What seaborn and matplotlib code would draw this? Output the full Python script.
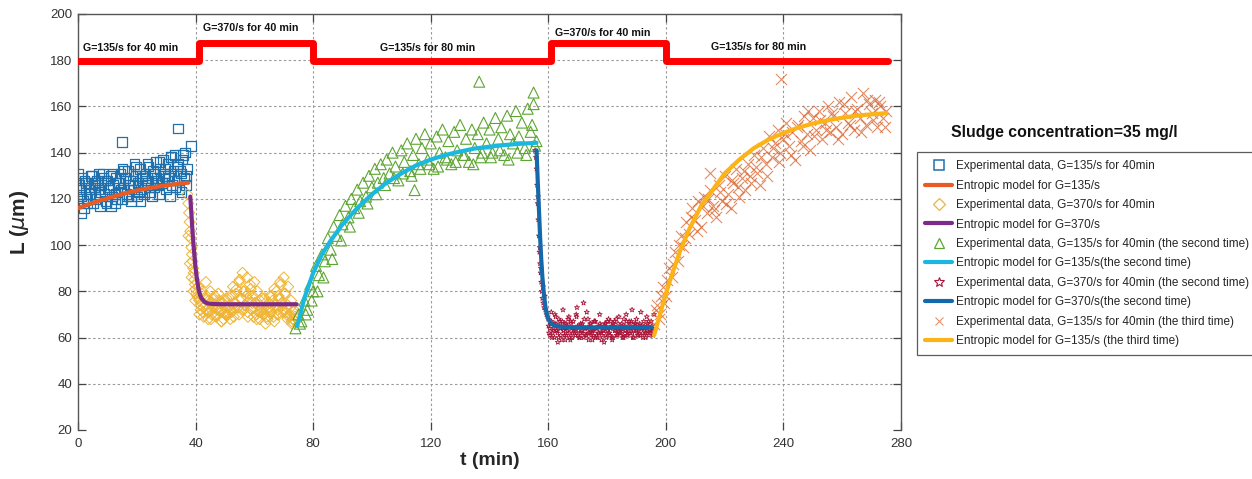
import numpy as np
import pandas as pd
import matplotlib
matplotlib.use("Agg")
import matplotlib.pyplot as plt
from matplotlib.lines import Line2D
import seaborn as sns

# ---------------- measured floc size L (um) versus time t (min) ----------------
# G=135/s, first 40 min (squares)
S1_T = [0, 0.5, 1, 1.5, 2, 2.5, 3, 3.5, 4, 4.5,
        5, 5.5, 6, 6.5, 7, 7.5, 8, 8.5, 9, 9.5,
        10, 10.5, 11, 11.5, 12, 12.5, 13, 13.5, 14, 14.5,
        15, 15.5, 16, 16.5, 17, 17.5, 18, 18.5, 19, 19.5,
        20, 20.5, 21, 21.5, 22, 22.5, 23, 23.5, 24, 24.5,
        25, 25.5, 26, 26.5, 27, 27.5, 28, 28.5, 29, 29.5,
        30, 30.5, 31, 31.5, 32, 32.5, 33, 33.5, 34, 34.5,
        35, 35.5, 36, 36.5, 37,
        0.2, 1.2, 2.2, 3.2, 4.2, 5.8, 7.2, 9.2, 11.2, 13.2,
        15.2, 17.2, 19.2, 21.2, 23.2, 25.2, 27.2, 29.2, 31.2, 33.2,
        35.2, 36.8, 15.0, 34.0, 38.5]
S1_L = [118, 126, 121, 129, 116, 124, 120, 127, 122, 130,
        118, 125, 121, 128, 124, 117, 126, 131, 122, 119,
        128, 124, 130, 121, 126, 118, 129, 123, 127, 131,
        120, 125, 129, 122, 132, 126, 119, 128, 124, 130,
        121, 127, 133, 124, 129, 122, 131, 126, 134, 123,
        129, 132, 125, 136, 128, 122, 133, 127, 137, 130,
        124, 135, 129, 138, 126, 132, 139, 128, 135, 124,
        131, 137, 129, 140, 133,
        131, 114, 128, 118, 125, 127, 131, 128, 117, 120,
        133, 121, 135, 119, 128, 121, 126, 131, 121, 125,
        123, 126, 144.6, 150.5, 143]
S1B_T = [0.7, 1.7, 2.7, 3.7, 4.7, 5.7, 6.7, 7.7, 8.7, 9.7,
         10.7, 11.7, 12.7, 13.7, 14.7, 15.7, 16.7, 17.7, 18.7, 19.7,
         20.7, 21.7, 22.7, 23.7, 24.7, 25.7, 26.7, 27.7, 28.7, 29.7,
         30.7, 31.7, 32.7, 33.7, 34.7, 35.7, 36.7]
S1B_L = [124, 119, 127, 122, 130, 120, 126, 123, 129, 118,
         125, 131, 122, 127, 124, 132, 121, 128, 126, 134,
         123, 130, 127, 135, 125, 131, 129, 136, 127, 133,
         130, 138, 128, 134, 132, 139, 130]

# G=370/s, 40 min (diamonds)
S2_T = [37.2, 37.5, 37.8, 38.0, 38.2, 38.4, 38.6, 38.8, 39.0, 39.2,
        39.4, 39.6, 39.8, 40.0, 40.3, 40.6, 41.0,
        37.6, 38.1, 38.7, 39.3, 39.9,
        41, 41.5, 42, 42.5, 43, 43.5, 44, 44.5, 45, 45.5,
        46, 46.5, 47, 47.5, 48, 48.5, 49, 49.5, 50, 50.5,
        51, 51.5, 52, 52.5, 53, 53.5, 54, 54.5, 55, 55.5,
        56, 56.5, 57, 57.5, 58, 58.5, 59, 59.5, 60, 60.5,
        61, 61.5, 62, 62.5, 63, 63.5, 64, 64.5, 65, 65.5,
        66, 66.5, 67, 67.5, 68, 68.5, 69, 69.5, 70, 70.5,
        71, 71.5, 72, 72.5, 73, 73.5, 74,
        41.3, 42.8, 44.3, 45.8, 47.3, 48.8, 50.3, 51.8, 53.3, 54.8,
        56.3, 57.8, 59.3, 60.8, 62.3, 63.8, 65.3, 66.8, 68.3, 69.8,
        71.3, 72.8]
S2_L = [122, 118, 114, 110, 106, 103, 99, 96, 93, 90,
        88, 85, 83, 81, 79, 78, 77,
        104, 92, 86, 80, 76,
        82, 74, 79, 71, 77, 84, 72, 76, 80, 70,
        74, 78, 69, 73, 76, 71, 75, 68, 73, 77,
        70, 74, 72, 78, 69, 75, 81, 73, 85, 77,
        88, 80, 74, 86, 79, 83, 72, 78, 84, 75,
        80, 71, 76, 73, 70, 77, 72, 68, 75, 71,
        78, 69, 74, 80, 72, 77, 83, 74, 86, 79,
        73, 82, 70, 76, 68, 72, 67,
        70, 73, 68, 75, 72, 67, 70, 68, 73, 70,
        72, 69, 75, 68, 71, 66, 73, 67, 70, 71,
        68, 66]
S2B_T = [41.25, 41.75, 42.25, 42.75, 43.25, 43.75, 44.25, 44.75, 45.25, 45.75,
         46.25, 46.75, 47.25, 47.75, 48.25, 48.75, 49.25, 49.75, 50.25, 50.75,
         51.25, 51.75, 52.25, 52.75, 53.25, 53.75, 54.25, 54.75, 55.25, 55.75,
         56.25, 56.75, 57.25, 57.75, 58.25, 58.75, 59.25, 59.75, 60.25, 60.75,
         61.25, 61.75, 62.25, 62.75, 63.25, 63.75, 64.25, 64.75, 65.25, 65.75,
         66.25, 66.75, 67.25, 67.75, 68.25, 68.75, 69.25, 69.75, 70.25, 70.75,
         71.25, 71.75, 72.25, 72.75, 73.25, 73.75]
S2B_L = [76, 72, 80, 69, 74, 78, 71, 75, 68, 73,
         77, 70, 74, 79, 72, 67, 75, 71, 76, 70,
         73, 78, 71, 82, 75, 79, 73, 84, 77, 72,
         80, 74, 78, 71, 76, 81, 73, 69, 75, 70,
         74, 68, 72, 77, 70, 75, 69, 73, 78, 71,
         76, 81, 74, 70, 78, 84, 75, 72, 79, 71,
         74, 69, 73, 67, 71, 69]

# G=135/s, second time (triangles)
S3_T = [74, 75, 76, 77, 78, 79, 80, 81, 82, 83,
        84, 85, 86, 87, 88, 89, 90, 91, 92, 93,
        94, 95, 96, 97, 98, 99, 100, 101, 102, 103,
        104, 105, 106, 107, 108, 109, 110, 111, 112, 113,
        114, 115, 116, 117, 118, 119, 120, 121, 122, 123,
        124, 125, 126, 127, 128, 129, 130, 131, 132, 133,
        134, 135, 136, 137, 138, 139, 140, 141, 142, 143,
        144, 145, 146, 147, 148, 149, 150, 151, 152, 153,
        154, 155, 156,
        75.5, 77.5, 79.5, 81.5, 83.5, 86.5, 89.5, 92.5, 95.5, 98.5,
        101.5, 104.5, 107.5, 110.5, 113.5, 116.5, 119.5, 122.5, 125.5, 128.5,
        131.5, 134.5, 137.5, 140.5, 143.5, 146.5, 149.5, 152.5, 155.5,
        136.5, 114.5, 155.0, 154.5]
S3_L = [64, 70, 67, 76, 72, 83, 80, 91, 87, 96,
        93, 103, 98, 108, 104, 113, 109, 117, 112, 120,
        116, 124, 119, 127, 121, 130, 125, 133, 127, 135,
        129, 137, 131, 140, 134, 128, 141, 136, 144, 132,
        139, 146, 135, 142, 148, 137, 144, 133, 147, 140,
        150, 138, 145, 135, 149, 141, 152, 139, 146, 136,
        150, 142, 148, 138, 153, 144, 150, 140, 155, 146,
        151, 139, 156, 148, 144, 158, 147, 153, 142, 159,
        149, 161, 145,
        66, 70, 76, 80, 86, 94, 102, 108, 114, 118,
        122, 126, 129, 131, 130, 133, 135, 134, 137, 136,
        139, 135, 140, 138, 141, 137, 140, 139, 143,
        170.7, 123.8, 166, 152]

# G=370/s, second time (stars)
S4_T = [155.5, 155.8, 156, 156.2, 156.4, 156.6, 156.8, 157, 157.2, 157.4,
        157.6, 157.8, 158, 158.3, 158.6, 159, 159.4, 159.8,
        156.5, 157.1, 157.5, 158.2, 158.8,
        160, 160.5, 161, 161.5, 162, 162.5, 163, 163.5, 164, 164.5,
        165, 165.5, 166, 166.5, 167, 167.5, 168, 168.5, 169, 169.5,
        170, 170.5, 171, 171.5, 172, 172.5, 173, 173.5, 174, 174.5,
        175, 175.5, 176, 176.5, 177, 177.5, 178, 178.5, 179, 179.5,
        180, 180.5, 181, 181.5, 182, 182.5, 183, 183.5, 184, 184.5,
        185, 185.5, 186, 186.5, 187, 187.5, 188, 188.5, 189, 189.5,
        190, 190.5, 191, 191.5, 192, 192.5, 193, 193.5, 194, 194.5,
        195, 195.5, 196,
        160.25, 160.75, 161.25, 161.75, 162.25, 162.75, 163.25, 163.75, 164.25, 164.75,
        165.25, 165.75, 166.25, 166.75, 167.25, 167.75, 168.25, 168.75, 169.25, 169.75,
        170.25, 170.75, 171.25, 171.75, 172.25, 172.75, 173.25, 173.75, 174.25, 174.75,
        175.25, 175.75, 176.25, 176.75, 177.25, 177.75, 178.25, 178.75, 179.25, 179.75,
        180.25, 180.75, 181.25, 181.75, 182.25, 182.75, 183.25, 183.75, 184.25, 184.75,
        185.25, 185.75, 186.25, 186.75, 187.25, 187.75, 188.25, 188.75, 189.25, 189.75,
        190.25, 190.75, 191.25, 191.75, 192.25, 192.75, 193.25, 193.75, 194.25, 194.75,
        195.25, 195.75]
S4_L = [141, 138, 133, 126, 118, 111, 104, 97, 92, 88,
        84, 80, 77, 75, 73, 72, 70, 69,
        121, 99, 90, 82, 78,
        68, 64, 71, 62, 66, 69, 63, 60, 67, 65,
        72, 61, 66, 63, 69, 59, 64, 67, 62, 70,
        65, 60, 66, 63, 75, 64, 61, 68, 62, 66,
        59, 63, 67, 61, 65, 70, 62, 64, 58, 66,
        63, 68, 61, 65, 60, 67, 64, 62, 69, 63,
        66, 61, 65, 70, 62, 67, 64, 72, 63, 66,
        68, 61, 65, 71, 64, 67, 62, 69, 65, 63,
        67, 64, 70,
        62, 66, 60, 64, 70, 63, 58, 65, 61, 67,
        63, 59, 64, 68, 60, 66, 62, 64, 61, 73,
        63, 60, 65, 62, 68, 61, 64, 59, 66, 63,
        61, 67, 64, 60, 62, 65, 61, 63, 66, 60,
        64, 62, 67, 59, 65, 63, 61, 66, 62, 64,
        60, 68, 63, 61, 65, 62, 67, 60, 64, 66,
        62, 63, 61, 65, 60, 64, 62, 66, 61, 63,
        65, 62]
S4B_T = [160.1, 160.6, 161.1, 161.6, 162.1, 162.6, 163.1, 163.6, 164.1, 164.6,
         165.1, 165.6, 166.1, 166.6, 167.1, 167.6, 168.1, 168.6, 169.1, 169.6,
         170.1, 170.6, 171.1, 171.6, 172.1, 172.6, 173.1, 173.6, 174.1, 174.6,
         175.1, 175.6, 176.1, 176.6, 177.1, 177.6, 178.1, 178.6, 179.1, 179.6,
         180.1, 180.6, 181.1, 181.6, 182.1, 182.6, 183.1, 183.6, 184.1, 184.6,
         185.1, 185.6, 186.1, 186.6, 187.1, 187.6, 188.1, 188.6, 189.1, 189.6,
         190.1, 190.6, 191.1, 191.6, 192.1, 192.6, 193.1, 193.6, 194.1, 194.6,
         195.1, 195.6]
S4B_L = [65, 61, 67, 63, 60, 66, 62, 68, 64, 59,
         63, 66, 61, 65, 62, 67, 60, 64, 63, 69,
         61, 65, 62, 66, 60, 64, 71, 62, 65, 61,
         63, 67, 60, 64, 62, 66, 59, 63, 65, 61,
         67, 62, 64, 60, 66, 63, 68, 61, 64, 62,
         65, 60, 63, 67, 61, 64, 66, 62, 60, 65,
         63, 61, 66, 64, 62, 65, 60, 63, 67, 62,
         64, 61]

# G=135/s, third time (crosses)
S5_T = [196, 197, 198, 199, 200, 201, 202, 203, 204, 205,
        206, 207, 208, 209, 210, 211, 212, 213, 214, 215,
        216, 217, 218, 219, 220, 221, 222, 223, 224, 225,
        226, 227, 228, 229, 230, 231, 232, 233, 234, 235,
        236, 237, 238, 239, 240, 241, 242, 243, 244, 245,
        246, 247, 248, 249, 250, 251, 252, 253, 254, 255,
        256, 257, 258, 259, 260, 261, 262, 263, 264, 265,
        266, 267, 268, 269, 270, 271, 272, 273, 274, 275,
        196.5, 197.5, 198.5, 199.5, 200.5,
        202.5, 204.5, 206.5, 208.5, 210.5, 212.5, 214.5, 216.5, 218.5, 220.5,
        222.5, 224.5, 226.5, 228.5, 230.5, 232.5, 234.5, 236.5, 238.5, 240.5,
        242.5, 244.5, 246.5, 248.5, 250.5, 252.5, 254.5, 256.5, 258.5, 260.5,
        262.5, 264.5, 266.5, 268.5, 270.5, 272.5, 274.5,
        239.3, 215.0]
S5_L = [66, 74, 70, 82, 78, 90, 86, 97, 93, 104,
        99, 110, 105, 116, 111, 119, 108, 121, 114, 124,
        117, 112, 126, 119, 130, 122, 116, 127, 133, 121,
        129, 124, 135, 127, 139, 131, 126, 142, 135, 147,
        138, 144, 150, 140, 146, 153, 143, 149, 137, 152,
        145, 156, 148, 141, 155, 150, 158, 146, 153, 160,
        149, 156, 151, 162, 148, 157, 153, 164, 150, 159,
        155, 166, 152, 161, 157, 163, 151, 160, 155, 158,
        72, 68, 78, 75, 85,
        92, 100, 103, 112, 106, 117, 120, 115, 123, 118,
        128, 125, 132, 130, 134, 138, 130, 142, 136, 148,
        139, 151, 143, 158, 147, 154, 150, 157, 146, 161,
        152, 158, 149, 163, 154, 162, 151,
        172, 131]

# ---------------- entropic model curves ----------------
M1_T = [0, 4, 8, 12, 16, 20, 24, 28, 32, 36, 37.5]
M1_L = [116, 117.8, 119.5, 121, 122.4, 123.6, 124.6, 125.5, 126.2, 126.8, 127]
M2_T = [38.2, 38.6, 39.0, 39.5, 40.0, 40.5, 41, 41.5, 42, 43, 44, 46, 50, 60, 74.4]
M2_L = [121, 113, 105, 97, 90, 85, 81, 78.5, 77, 75.5, 74.8, 74.5, 74.4, 74.4, 74.4]
M3_T = [74.6, 77, 80, 83, 86, 90, 95, 100, 105, 110, 115, 120, 125, 130, 135, 140, 145, 150, 156]
M3_L = [65, 77, 88, 96, 102, 109, 116, 122, 127, 131, 134.5, 137, 139, 140.5, 141.8, 142.6,
        143.3, 143.8, 144.3]
M4_T = [156, 156.4, 156.8, 157.2, 157.6, 158, 158.5, 159, 159.5, 160, 161, 162, 164, 167, 172,
        180, 195]
M4_L = [141, 128, 116, 104, 94, 86, 79, 73.5, 70, 68, 66, 65.2, 64.7, 64.5, 64.4, 64.4, 64.4]
M5_T = [196, 198, 200, 202, 205, 208, 212, 216, 220, 225, 230, 235, 240, 245, 250, 255, 260,
        265, 270, 275]
M5_L = [61, 70, 79, 87, 98, 107, 117, 124, 131, 137, 142, 145.7, 148.5, 150.8, 152.6, 154,
        155.1, 156, 156.6, 157.1]

# ---------------- shear-rate schedule ----------------
STEP_T = [0, 41, 80, 161, 200, 275.5]
STEP_L = [179.5, 187.5, 179.5, 187.5, 179.5, 179.5]
PHASE_TEXT = ["G=135/s for 40 min", "G=370/s for 40 min", "G=135/s for 80 min",
              "G=370/s for 40 min", "G=135/s for 80 min"]
PHASE_T = [1.7, 42.4, 102.7, 162.2, 215.5]
PHASE_L = [185.3, 193.8, 185.2, 191.6, 185.9]

LEGEND_LABELS = [
    "Experimental data, G=135/s for 40min",
    "Entropic model for G=135/s",
    "Experimental data, G=370/s for 40min",
    "Entropic model for G=370/s",
    "Experimental data, G=135/s for 40min (the second time)",
    "Entropic model for G=135/s(the second time)",
    "Experimental data, G=370/s for 40min (the second time)",
    "Entropic model for G=370/s(the second time)",
    "Experimental data, G=135/s for 40min (the third time)",
    "Entropic model for G=135/s (the third time)",
]

C_SQ, C_DI, C_TR, C_ST, C_X = "#1f70ac", "#f0b434", "#5da532", "#a8163a", "#d9642e"
C_M1, C_M2, C_M3, C_M4, C_M5 = "#ea5a24", "#7d2b8b", "#1ab8e0", "#1569ab", "#fcb316"

sns.set_style("ticks")
plt.rcParams["font.family"] = ["Liberation Sans", "DejaVu Sans"]
plt.rcParams["mathtext.fontset"] = "dejavusans"

W, H = 1252, 479
fig = plt.figure(figsize=(W / 100, H / 100), dpi=100)
ax = fig.add_axes([78 / W, 1 - 430 / H, 823 / W, 416 / H])

ax.set_xlim(0, 280)
ax.set_ylim(20, 200)

# dashed grid
for yv in range(40, 200, 20):
    ax.axhline(yv, color="#9a9a9a", lw=0.8, ls=(0, (2.2, 2.2)), zorder=0)
for xv in range(40, 280, 40):
    ax.axvline(xv, color="#9a9a9a", lw=0.8, ls=(0, (2.2, 2.2)), zorder=0)

# experimental data
sns.scatterplot(x=S1_T + S1B_T, y=S1_L + S1B_L, ax=ax, marker="s", s=48, facecolors="none",
                edgecolor=C_SQ, linewidth=0.9, zorder=2)
sns.scatterplot(x=S2_T + S2B_T, y=S2_L + S2B_L, ax=ax, marker="D", s=32, facecolors="none",
                edgecolor=C_DI, linewidth=0.7, zorder=2)
sns.scatterplot(x=S3_T, y=S3_L, ax=ax, marker="^", s=62, facecolors="none",
                edgecolor=C_TR, linewidth=0.8, zorder=2)
sns.scatterplot(x=S4_T + S4B_T, y=S4_L + S4B_L, ax=ax, marker="*", s=14, facecolors="none",
                edgecolor=C_ST, linewidth=0.6, zorder=2)
sns.scatterplot(x=S5_T, y=S5_L, ax=ax, marker="x", s=64, color=C_X,
                linewidth=0.8, alpha=0.75, zorder=2)

# model curves
for mt, ml, c in [(M1_T, M1_L, C_M1), (M2_T, M2_L, C_M2), (M3_T, M3_L, C_M3),
                  (M4_T, M4_L, C_M4), (M5_T, M5_L, C_M5)]:
    sns.lineplot(x=mt, y=ml, ax=ax, color=c, lw=3, sort=False, estimator=None, zorder=3)

# shear-rate schedule
sns.lineplot(x=STEP_T, y=STEP_L, ax=ax, color="#ff0000", lw=5, sort=False,
             estimator=None, drawstyle="steps-post", zorder=3)
for txt, tx, ty in zip(PHASE_TEXT, PHASE_T, PHASE_L):
    ax.text(tx, ty, txt, fontsize=7.7, fontweight="bold", va="center", ha="left", color="#111")

# axes styling
ax.set_xticks(range(0, 281, 40))
ax.set_yticks(range(20, 201, 20))
ax.tick_params(direction="in", top=True, right=True, length=6, width=0.9, color="#444",
               labelsize=9.5, labelcolor="#333")
ax.tick_params(axis="x", pad=6)
ax.tick_params(axis="y", pad=4)
for side in ["left", "top", "right"]:
    ax.spines[side].set_visible(True)
    ax.spines[side].set_color("#555")
    ax.spines[side].set_linewidth(1.0)
ax.spines["bottom"].set_visible(False)

ax.set_xlabel("t (min)", fontsize=14, fontweight="bold")
ax.set_ylabel(r"L ($\mu$m)", fontsize=15, fontweight="bold")
ax.xaxis.set_label_coords(0.5, -0.053)
ax.yaxis.set_label_coords(-0.057, 0.5)

# legend
handles = [
    Line2D([], [], ls="none", marker="s", ms=6.5, mfc="none", mec=C_SQ, mew=1.1),
    Line2D([], [], color=C_M1, lw=3),
    Line2D([], [], ls="none", marker="D", ms=6, mfc="none", mec=C_DI, mew=0.9),
    Line2D([], [], color=C_M2, lw=3),
    Line2D([], [], ls="none", marker="^", ms=7, mfc="none", mec=C_TR, mew=0.9),
    Line2D([], [], color=C_M3, lw=3),
    Line2D([], [], ls="none", marker="*", ms=7.5, mfc="none", mec=C_ST, mew=0.8),
    Line2D([], [], color=C_M4, lw=3),
    Line2D([], [], ls="none", marker="x", ms=6, color=C_X, mew=0.8, alpha=0.7),
    Line2D([], [], color=C_M5, lw=3),
]
leg = fig.legend(handles, LEGEND_LABELS, loc="upper left",
                 bbox_to_anchor=(917 / W, 1 - 152 / H), bbox_transform=fig.transFigure,
                 frameon=True, fancybox=False, fontsize=8.5, handlelength=2.3,
                 handletextpad=0.3, labelspacing=0.63, borderpad=0.7, borderaxespad=0)
leg.get_frame().set_edgecolor("#333")
leg.get_frame().set_linewidth(0.9)
fig.text(951 / W, 1 - 132 / H, "Sludge concentration=35 mg/l", fontsize=11.4,
         fontweight="bold", va="center", ha="left", color="#111")

fig.savefig("out.png", dpi=100)
